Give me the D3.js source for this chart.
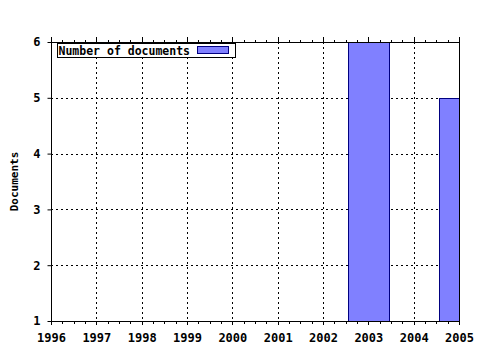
<!DOCTYPE html>
<html>
<head>
<meta charset="utf-8">
<script src="https://cdn.jsdelivr.net/npm/d3@7"></script>
<style>
  body { margin: 0; background: #fff; }
  text { font-family: "DejaVu Sans Mono", monospace; font-weight: bold; }
</style>
</head>
<body>
<div id="chart"></div>
<script>
// data
var years = [2003, 2005];
var docs = [6, 5];
var yearTicks = [1996, 1997, 1998, 1999, 2000, 2001, 2002, 2003, 2004, 2005];
var docTicks = [1, 2, 3, 4, 5, 6];
var seriesName = "Number of documents";
var yTitle = "Documents";

var width = 480, height = 350;
var margin = {top: 42, right: 21, bottom: 29, left: 51};
var w = width - margin.left - margin.right,
    h = height - margin.top - margin.bottom;

var fillColor = "#8080ff", strokeColor = "#000080";

var svg = d3.select("#chart").append("svg")
    .attr("width", width)
    .attr("height", height);

var g = svg.append("g")
    .attr("transform", "translate(" + margin.left + "," + margin.top + ")");

var x = d3.scaleLinear().domain([1996, 2005]).range([0, w]);
var y = d3.scaleLinear().domain([1, 6]).range([h, 0]);

// dotted grid
g.selectAll(".vgrid")
    .data(yearTicks.slice(1, -1))
    .enter().append("line")
    .attr("x1", function (d) { return Math.round(x(d)) + 0.5; })
    .attr("x2", function (d) { return Math.round(x(d)) + 0.5; })
    .attr("y1", 0).attr("y2", h)
    .attr("stroke", "#000")
    .attr("stroke-dasharray", "2,3");

g.selectAll(".hgrid")
    .data(docTicks.slice(1, -1))
    .enter().append("line")
    .attr("y1", function (d) { return Math.round(y(d)) + 0.5; })
    .attr("y2", function (d) { return Math.round(y(d)) + 0.5; })
    .attr("x1", 0).attr("x2", w)
    .attr("stroke", "#000")
    .attr("stroke-dasharray", "2,3");

// bars, clipped to the plot
g.append("clipPath").attr("id", "plotclip")
    .append("rect").attr("width", w + 1).attr("height", h + 1);

var barW = x(1996.9) - x(1996);
g.append("g").attr("clip-path", "url(#plotclip)")
    .selectAll("rect")
    .data(years)
    .enter().append("rect")
    .attr("x", function (d) { return Math.round(x(d) - barW / 2) + 0.5; })
    .attr("y", function (d, i) { return Math.round(y(docs[i])) + 0.5; })
    .attr("width", Math.round(barW))
    .attr("height", function (d, i) { return Math.round(y(1)) - Math.round(y(docs[i])); })
    .attr("fill", fillColor)
    .attr("stroke", strokeColor);

// frame
g.append("rect")
    .attr("x", 0.5).attr("y", 0.5)
    .attr("width", w).attr("height", h)
    .attr("fill", "none")
    .attr("stroke", "#000");

// minor ticks every quarter year, top and bottom
var minor = d3.range(1996, 2005.01, 0.25);
var tickG = g.append("g").attr("stroke", "#000");
minor.forEach(function (v) {
    var major = Math.abs(v - Math.round(v)) < 1e-6;
    var px = Math.round(x(v)) + 0.5;
    tickG.append("line").attr("x1", px).attr("x2", px)
        .attr("y1", h).attr("y2", h + (major ? 4 : 3));
    tickG.append("line").attr("x1", px).attr("x2", px)
        .attr("y1", 0).attr("y2", major ? -5 : -2);
});

// x axis labels
var xAxis = d3.axisBottom(x).tickValues(yearTicks).tickFormat(d3.format("d"))
    .tickSize(0).tickPadding(12);
var xa = g.append("g").attr("transform", "translate(0," + h + ")").call(xAxis);
xa.select(".domain").remove();
xa.selectAll("text").attr("font-size", "12px").attr("fill", "#000")
    .style("font-family", "'DejaVu Sans Mono', monospace").style("font-weight", "bold");

// y axis
var yAxis = d3.axisLeft(y).tickValues(docTicks).tickFormat(d3.format("d"))
    .tickSize(4).tickPadding(7);
var ya = g.append("g").attr("transform", "translate(0.5,0)").call(yAxis);
ya.select(".domain").remove();
ya.selectAll("line").attr("stroke", "#000");
ya.selectAll("text").attr("font-size", "12px").attr("fill", "#000")
    .style("font-family", "'DejaVu Sans Mono', monospace").style("font-weight", "bold");

// y title
svg.append("text")
    .attr("transform", "translate(18," + (margin.top + h / 2) + ") rotate(-90)")
    .attr("text-anchor", "middle")
    .attr("font-size", "11px")
    .text(yTitle);

// legend
var lg = svg.append("g").attr("transform", "translate(57.5,43.5)");
lg.append("rect").attr("width", 178).attr("height", 14)
    .attr("fill", "#fff").attr("stroke", "#000");
lg.append("text").attr("x", 1).attr("y", 11)
    .attr("font-size", "11.5px")
    .text(seriesName);
lg.append("rect").attr("x", 140).attr("y", 3).attr("width", 31).attr("height", 7)
    .attr("fill", fillColor).attr("stroke", strokeColor);
</script>
</body>
</html>
